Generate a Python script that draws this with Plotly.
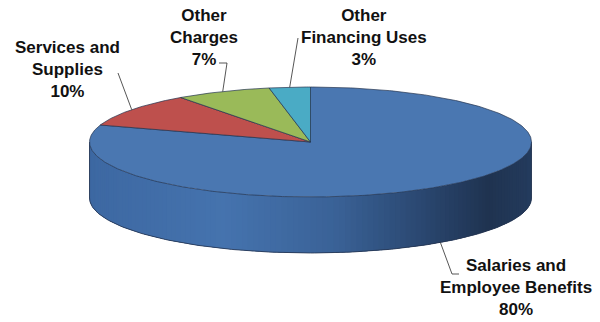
import numpy as np
import plotly.graph_objects as go

# Budget shares by category (percent)
categories = ["Salaries and<br>Employee Benefits", "Services and<br>Supplies",
              "Other<br>Charges", "Other<br>Financing Uses"]
values = [80, 10, 7, 3]
top_colors = ["#4A77B1", "#BE504D", "#9ABA59", "#4AABC5"]

# Pie geometry in page pixels (x to the right, y downward)
CX, CY = 310.5, 142.0
RX, RY = 221.0, 55.0
DEPTH = 56.0
EDGE = "#24344f"


def rim(theta_deg, drop=0.0):
    """Point on the top ellipse; theta measured clockwise from 12 o'clock."""
    t = np.radians(theta_deg)
    return CX + RX * np.sin(t), CY - RY * np.cos(t) + drop


total = float(sum(values))
bounds = np.concatenate([[0.0], np.cumsum(values) / total * 360.0])

fig = go.Figure()

# Front wall of the disc (only the half facing the viewer is visible)
stops = [(0.0, (0x3D, 0x68, 0xA2)), (0.3, (0x45, 0x73, 0xAE)), (0.55, (0x3A, 0x62, 0x97)),
         (0.75, (0x2A, 0x47, 0x70)), (0.9, (0x1F, 0x33, 0x50)), (1.0, (0x24, 0x3B, 0x5D))]


def side_color(x):
    t = (x - (CX - RX)) / (2 * RX)
    t = min(max(t, 0.0), 1.0)
    for (t0, c0), (t1, c1) in zip(stops[:-1], stops[1:]):
        if t <= t1:
            f = (t - t0) / (t1 - t0) if t1 > t0 else 0
            c = [round(a + (b - a) * f) for a, b in zip(c0, c1)]
            return "rgb(%d,%d,%d)" % tuple(c)
    return "rgb(%d,%d,%d)" % stops[-1][1]


# Base fill underneath the shaded strips so no seams show through
arc = np.linspace(90, 270, 181)
xs, ys = rim(arc)
fig.add_trace(go.Scatter(
    x=np.concatenate([xs, xs[::-1]]), y=np.concatenate([ys, (ys + DEPTH)[::-1]]),
    mode="lines", fill="toself", fillcolor="#2f5080", line=dict(width=0),
    hoverinfo="skip", showlegend=False))

wall = np.linspace(90, 270, 121)
step = wall[1] - wall[0]
for a0 in wall[:-1]:
    a1 = min(a0 + step * 1.6, 270)
    seg = np.linspace(a0, a1, 4)
    sx, sy = rim(seg)
    col = side_color(float(np.mean(sx)))
    fig.add_trace(go.Scatter(
        x=np.concatenate([sx, sx[::-1]]), y=np.concatenate([sy, (sy + DEPTH)[::-1]]),
        mode="lines", fill="toself", fillcolor=col,
        line=dict(width=0), hoverinfo="skip", showlegend=False))

# Outline of the wall
fig.add_trace(go.Scatter(x=xs, y=ys + DEPTH, mode="lines",
                         line=dict(color=EDGE, width=0.8), hoverinfo="skip", showlegend=False))
for a in (90, 270):
    x, y = rim(a)
    fig.add_trace(go.Scatter(x=[x, x], y=[y, y + DEPTH], mode="lines",
                             line=dict(color=EDGE, width=0.8), hoverinfo="skip", showlegend=False))

# Top faces of the slices
for i, v in enumerate(values):
    a = np.linspace(bounds[i], bounds[i + 1], max(int((bounds[i + 1] - bounds[i]) * 2), 4))
    ax, ay = rim(a)
    px = np.concatenate([[CX], ax, [CX]])
    py = np.concatenate([[CY], ay, [CY]])
    fig.add_trace(go.Scatter(x=px, y=py, mode="lines", fill="toself",
                             fillcolor=top_colors[i], line=dict(color=EDGE, width=0.7),
                             hoverinfo="skip", showlegend=False))

# Labels with leader lines anchored at each slice's middle angle
label_pos = [(516, 287), (67, 69), (204, 37), (364, 37)]
elbows = [[(452, 274), (459, 274)], [(118, 73)], [(227, 63), (219, 63)], [(298, 38)]]
for i, v in enumerate(values):
    mid = (bounds[i] + bounds[i + 1]) / 2
    drop = DEPTH if 90 < mid < 270 else 0.0
    ax, ay = rim(mid, drop)
    lx = [ax] + [p[0] for p in elbows[i]]
    ly = [ay] + [p[1] for p in elbows[i]]
    fig.add_trace(go.Scatter(x=lx, y=ly, mode="lines", line=dict(color="#2b2b2b", width=0.8),
                             hoverinfo="skip", showlegend=False))
    fig.add_annotation(x=label_pos[i][0], y=label_pos[i][1], xref="x", yref="y",
                       text="<b>%s<br>%d%%</b>" % (categories[i], v), showarrow=False,
                       xanchor="center", yanchor="middle", align="center",
                       font=dict(family="Arial, Liberation Sans, sans-serif", size=17, color="#111111"))

fig.update_xaxes(range=[0, 600], visible=False, fixedrange=True)
fig.update_yaxes(range=[322, 0], visible=False, fixedrange=True)
fig.update_layout(width=600, height=322, autosize=False,
                  margin=dict(l=0, r=0, t=0, b=0),
                  paper_bgcolor="white", plot_bgcolor="white")

fig.write_html("out.html")
